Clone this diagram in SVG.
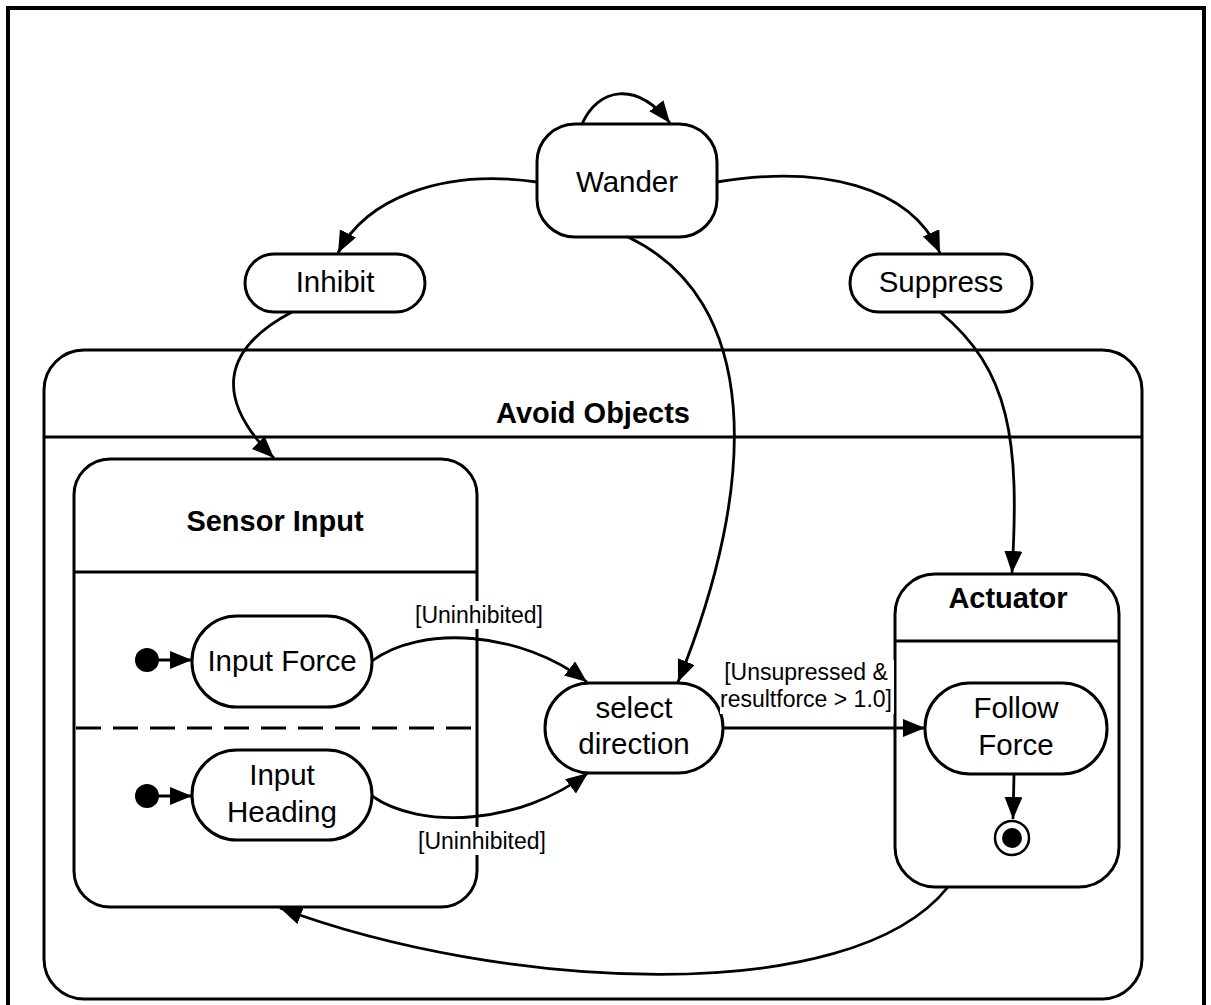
<svg xmlns="http://www.w3.org/2000/svg" width="1211" height="1005" viewBox="0 0 1211 1005">
<style>
.box{fill:#fff;stroke:#000;stroke-width:3}
.line{fill:none;stroke:#000;stroke-width:3}
.t{font-family:"Liberation Sans",Arial,sans-serif;font-size:29.5px;fill:#000;text-anchor:middle}
.b{font-family:"Liberation Sans",Arial,sans-serif;font-size:29px;font-weight:bold;fill:#000;text-anchor:middle}
.s{font-family:"Liberation Sans",Arial,sans-serif;font-size:23px;fill:#000;text-anchor:middle}
.conn{fill:none;stroke:#000;stroke-width:2.8;marker-end:url(#arr)}
</style>
<defs>
<marker id="arr" markerUnits="userSpaceOnUse" markerWidth="24" markerHeight="20" refX="22" refY="9" orient="auto">
<path d="M0,0 L22,9 L0,18 z" fill="#000"/>
</marker>
</defs>
<rect x="0" y="0" width="1211" height="1005" fill="#fff"/>
<rect x="8" y="8" width="1196" height="1010" fill="none" stroke="#000" stroke-width="4"/>

<g id="avoid-objects">
<rect class="box" x="44" y="350" width="1098" height="649" rx="40" ry="40"/>
<line class="line" x1="44" y1="437" x2="1142" y2="437"/>
<text class="b" x="593" y="423">Avoid Objects</text>
</g>

<g id="sensor-input">
<rect class="box" x="74" y="459" width="403" height="448" rx="36" ry="36"/>
<line class="line" x1="74" y1="572" x2="477" y2="572"/>
<line class="line" x1="76" y1="728" x2="477" y2="728" stroke-dasharray="25 12"/>
<text class="b" x="275" y="531">Sensor Input</text>
</g>

<g id="actuator">
<rect class="box" x="895" y="574" width="224" height="313" rx="40" ry="40"/>
<line class="line" x1="895" y1="641" x2="1119" y2="641"/>
<text class="b" x="1008" y="608">Actuator</text>
</g>

<g id="connectors">
<path class="conn" d="M582,124 C598,88 636,80 670,123"/>
<path class="conn" d="M537,182 C440,168 365,200 338,253"/>
<path class="conn" d="M717,182 C820,165 910,185 940,253"/>
<path class="conn" d="M628,237 C760,300 760,480 678,682"/>
<path class="conn" d="M292,312 C220,350 215,400 274,458"/>
<path class="conn" d="M940,312 C1010,370 1020,440 1012,573"/>
<path class="conn" d="M372,661 C420,625 520,630 587,682"/>
<path class="conn" d="M372,796 C420,830 520,825 588,773"/>
<path class="conn" d="M723,728 L925,728"/>
<path class="conn" d="M1014,775 L1013,819"/>
<path class="conn" d="M948,887 C850,1010 500,990 280,908"/>
<path class="conn" d="M159,660 L192,660"/>
<path class="conn" d="M159,796 L192,796"/>
</g>

<g id="init1"><circle cx="147" cy="660" r="12" fill="#000"/></g>
<g id="init2"><circle cx="147" cy="796" r="12" fill="#000"/></g>

<g id="wander">
<rect class="box" x="537" y="124" width="180" height="113" rx="38" ry="38"/>
<text class="t" x="627" y="192">Wander</text>
</g>
<g id="inhibit">
<rect class="box" x="245" y="254" width="180" height="58" rx="29" ry="29"/>
<text class="t" x="335" y="292">Inhibit</text>
</g>
<g id="suppress">
<rect class="box" x="850" y="254" width="182" height="58" rx="29" ry="29"/>
<text class="t" x="941" y="292">Suppress</text>
</g>
<g id="input-force">
<rect class="box" x="192" y="616" width="180" height="91" rx="45" ry="45"/>
<text class="t" x="282" y="671">Input Force</text>
</g>
<g id="input-heading">
<rect class="box" x="192" y="750" width="180" height="90" rx="45" ry="45"/>
<text class="t" x="282" y="785">Input</text>
<text class="t" x="282" y="822">Heading</text>
</g>
<g id="select-direction">
<rect class="box" x="545" y="683" width="178" height="90" rx="45" ry="45"/>
<text class="t" x="634" y="718">select</text>
<text class="t" x="634" y="754">direction</text>
</g>
<g id="follow-force">
<rect class="box" x="925" y="683" width="182" height="91" rx="45" ry="45"/>
<text class="t" x="1016" y="718">Follow</text>
<text class="t" x="1016" y="755">Force</text>
</g>
<g id="final">
<circle cx="1012" cy="838" r="17" fill="#fff" stroke="#000" stroke-width="2.5"/>
<circle cx="1012" cy="838" r="10" fill="#000"/>
</g>

<g id="labels">
<rect x="412" y="601" width="134" height="28" fill="#fff"/>
<text class="s" x="479" y="623">[Uninhibited]</text>
<rect x="415" y="827" width="134" height="28" fill="#fff"/>
<text class="s" x="482" y="849">[Uninhibited]</text>
<rect x="720" y="660" width="174" height="54" fill="#fff"/>
<text class="s" x="806" y="680">[Unsupressed &amp;</text>
<text class="s" x="806" y="707">resultforce &gt; 1.0]</text>
</g>
</svg>
